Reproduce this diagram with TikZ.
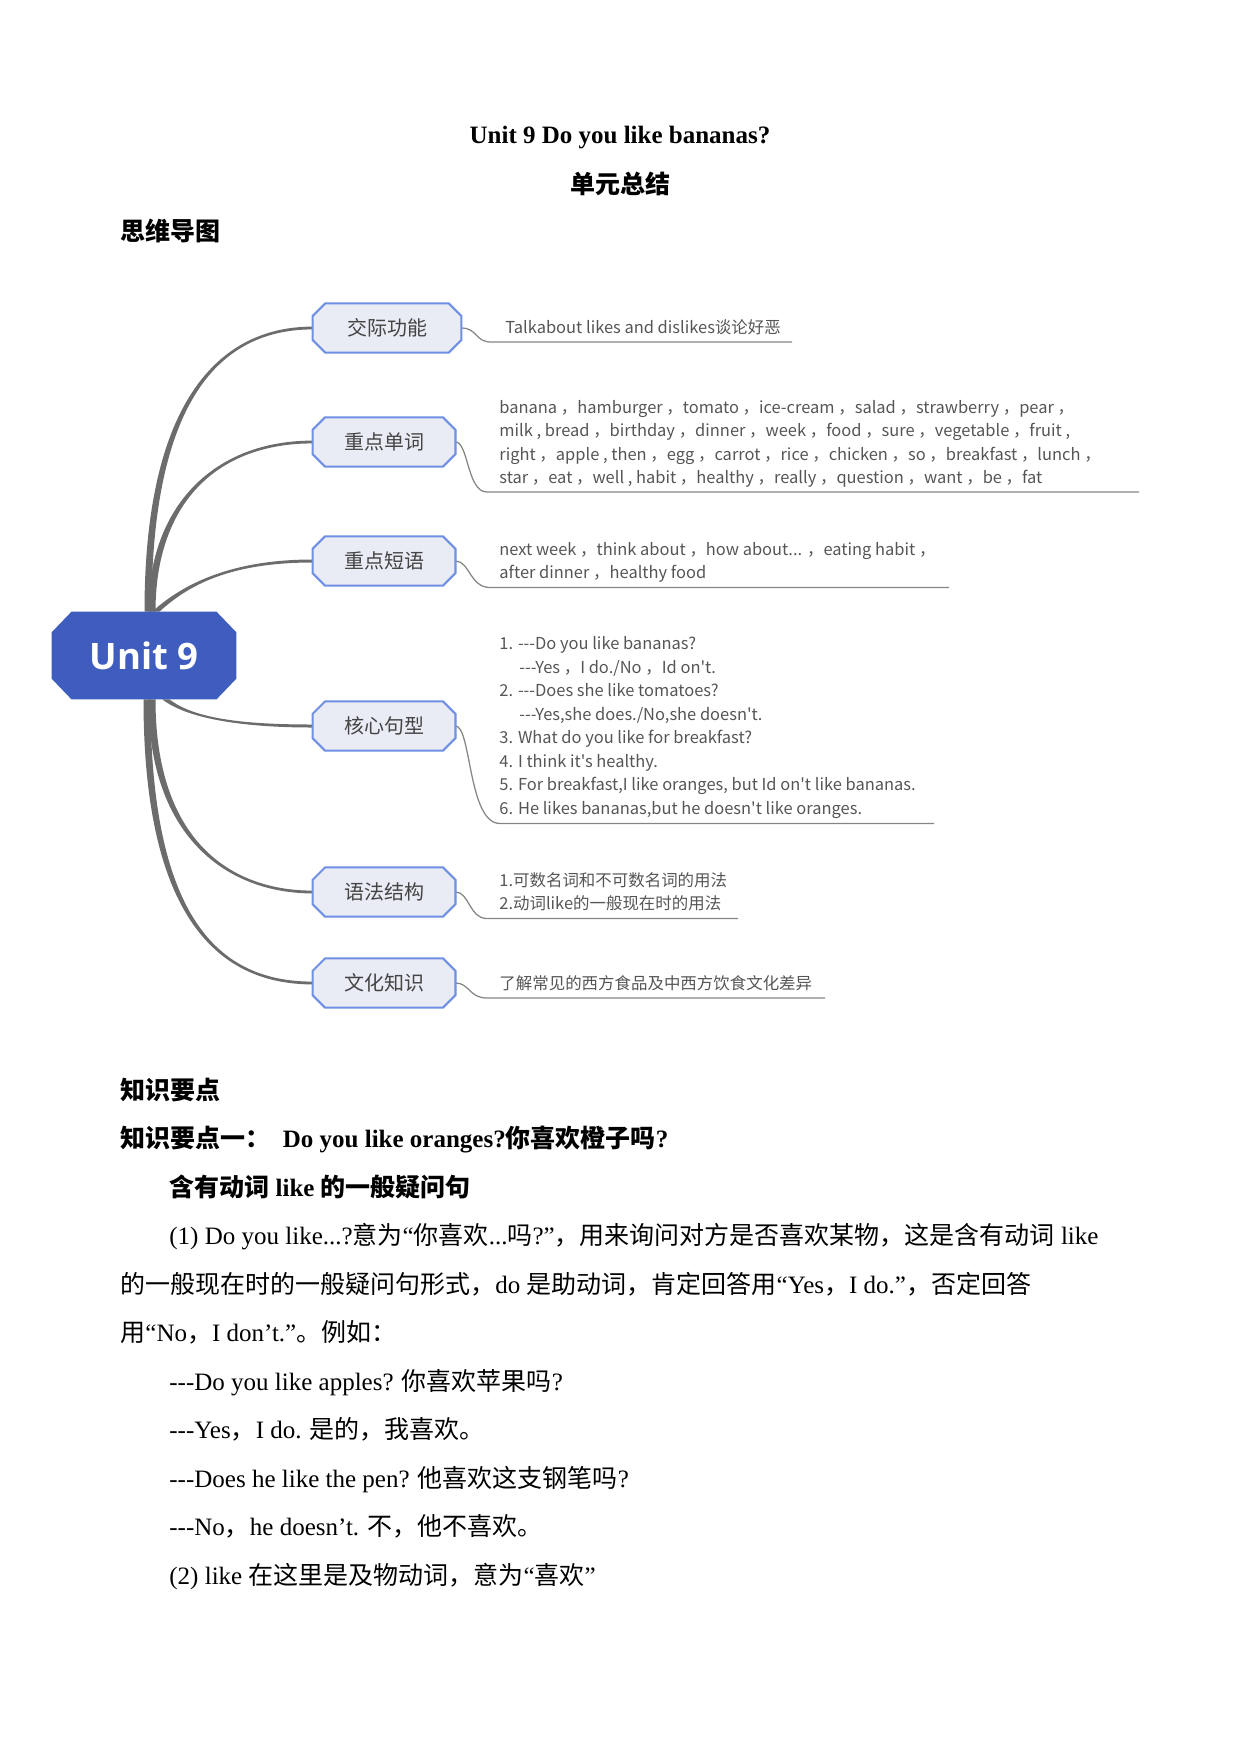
\documentclass[tikz,border=0pt]{standalone}
\usepackage{fontspec}
\setmainfont{Liberation Serif}[Ligatures=TeXOff]
\newfontfamily\cjk{Noto Sans CJK SC}
\newfontfamily\osans{Open Sans}
\usetikzlibrary{calc}
\pgfdeclarelayer{bg}
\pgfdeclarelayer{mid}
\pgfsetlayers{bg,mid,main}
\definecolor{trunk}{HTML}{6C6C6C}
\definecolor{unitblue}{HTML}{3F5CBF}
\definecolor{brfill}{HTML}{E9EBF5}
\definecolor{brline}{HTML}{6F8FE3}
\definecolor{leafgray}{HTML}{555555}
\definecolor{brtext}{HTML}{444444}
\definecolor{thingray}{HTML}{858585}
\newcommand\octbox[4]{\begin{pgfonlayer}{mid}\path[#4] ([xshift=#2]#1.north west) -- ([xshift=-#2]#1.north east) -- ([yshift=-#3]#1.north east) -- ([yshift=#3]#1.south east) -- ([xshift=-#2]#1.south east) -- ([xshift=#2]#1.south west) -- ([yshift=#3]#1.south west) -- ([yshift=-#3]#1.north west) -- cycle;\end{pgfonlayer}}
\newcommand\taper[6]{\begin{pgfonlayer}{bg}\fill[trunk] ($(#1)+({0-(#5)},0)$) .. controls ($(#2)+({0-(#5)},0)$) and ($(#3)+(0,{0-(#6)})$) .. ($(#4)+(0,{0-(#6)})$) -- ($(#4)+(0,{#6})$) .. controls ($(#3)+(0,{#6})$) and ($(#2)+({#5},0)$) .. ($(#1)+({#5},0)$) -- cycle;\end{pgfonlayer}}
\tikzset{
  unitnode/.style={minimum width=88.3pt, minimum height=41.8pt, inner sep=0pt, text=white, font=\osans\bfseries\fontsize{17.5}{20}\selectfont},
  br/.style={minimum width=68.2pt, minimum height=23.2pt, inner sep=0pt, text=brtext, font=\cjk\fontsize{9.6}{11}\selectfont},
  leaf/.style={anchor=base west, inner sep=0pt, text=leafgray, font=\cjk\fontsize{7.9}{9}\selectfont},
  body/.style={anchor=base west, inner sep=0pt, font=\fontsize{12}{14}\selectfont},
  thinline/.style={draw=thingray, line width=0.6pt},
  brshape/.style={fill=brfill, draw=brline, line width=1pt},
}
\begin{document}
\begin{tikzpicture}[x=0.48pt,y=-0.48pt]
\useasboundingbox (0,0) rectangle (1241,1754);
% headings
\node[body, anchor=base] (title) at (620,143) {\bfseries Unit 9 Do you like bananas?};
\node[body, anchor=base] (sub) at (620,193) {\cjk\bfseries 单元总结};
\node[body] (mm) at (120,240) {\cjk\bfseries 思维导图};
% central node
\node[unitnode] (u) at (144,655.5) {Unit 9};
\octbox{u}{9.6pt}{10pt}{fill=unitblue}
% branch nodes
\node[br, minimum width=71pt] (b1) at (387,328) {交际功能};
\node[br] (b2) at (384,442) {重点单词};
\node[br] (b3) at (384,561) {重点短语};
\node[br] (b4) at (384,726) {核心句型};
\node[br] (b5) at (384,892) {语法结构};
\node[br] (b6) at (384,983) {文化知识};
\foreach \b in {b1,b2,b3,b4,b5,b6}{\octbox{\b}{6pt}{6pt}{brshape}}
% root points
\coordinate (r1) at ($(u.north)+(4,0)$);
\coordinate (r2) at ($(u.north)+(8,0)$);
\coordinate (r3) at ($(u.north)+(12,0)$);
\coordinate (r4) at ($(u.south)+(22,0)$);
\coordinate (r5) at ($(u.south)+(8,0)$);
\coordinate (r6) at ($(u.south)+(3,0)$);
% trunk connectors
\taper{r1}{148,400}{220,328}{b1.west}{3.5}{1.4}
\taper{r2}{152,505}{215,442}{b2.west}{3.5}{1.4}
\taper{r3}{185,585}{230,561}{b3.west}{3.6}{1.5}
\taper{r4}{190,718}{240,726}{b4.west}{3.6}{-1.5}
\taper{r5}{152,840}{230,892}{b5.west}{3.5}{-1.4}
\taper{r6}{147,920}{220,983}{b6.west}{3.5}{-1.4}
% leaf underline end points
\coordinate (e1) at (491,342);   \coordinate (f1) at (792,342);
\coordinate (e2) at (487,492);   \coordinate (f2) at (1139,492);
\coordinate (e3) at (490,587.5); \coordinate (f3) at (949,587.5);
\coordinate (e4) at (500,823.5); \coordinate (f4) at (934,823.5);
\coordinate (e5) at (487,918.5); \coordinate (f5) at (738,918.5);
\coordinate (e6) at (487,998);   \coordinate (f6) at (825,998);
\begin{pgfonlayer}{bg}
\draw[thinline] (b1.east) .. controls +(16,0) and +(-16,0) .. (e1) -- (f1);
\draw[thinline] (b2.east) .. controls +(13,0) and +(-20,0) .. (e2) -- (f2);
\draw[thinline] (b3.east) .. controls +(14,0) and +(-20,0) .. (e3) -- (f3);
\draw[thinline] (b4.east) .. controls +(16,0) and +(-32,0) .. (e4) -- (f4);
\draw[thinline] (b5.east) .. controls +(14,0) and +(-18,0) .. (e5) -- (f5);
\draw[thinline] (b6.east) .. controls +(14,0) and +(-18,0) .. (e6) -- (f6);
\end{pgfonlayer}
% leaf texts
\node[leaf] (t1) at (505,333) {Talkabout likes and dislikes谈论好恶};
\node[leaf] (t21) at (499,413) {banana ，hamburger ，tomato ，ice-cream ，salad ，strawberry ，pear ，};
\node[leaf] (t22) at (499,436.5) {milk , bread ，birthday ，dinner ，week ，food ，sure ，vegetable ，fruit ,};
\node[leaf] (t23) at (499,460) {right ，apple , then ，egg ，carrot ，rice ，chicken ，so ，breakfast ，lunch ，};
\node[leaf] (t24) at (499,483.5) {star ，eat ，well , habit ，healthy ，really ，question ，want ，be ，fat};
\node[leaf] (t31) at (499,555) {next week ，think about ，how about... ，eating habit ，};
\node[leaf] (t32) at (499,578.5) {after dinner ，healthy food};
\node[leaf] (t41) at (499,649.5) {1. ---Do you like bananas?};
\node[leaf] (t42) at (519,673) {---Yes ，I do./No ，Id on't.};
\node[leaf] (t43) at (499,696.5) {2. ---Does she like tomatoes?};
\node[leaf] (t44) at (519,720) {---Yes,she does./No,she doesn't.};
\node[leaf] (t45) at (499,743.5) {3. What do you like for breakfast?};
\node[leaf] (t46) at (499,767) {4. I think it's healthy.};
\node[leaf] (t47) at (499,790.5) {5. For breakfast,I like oranges, but Id on't like bananas.};
\node[leaf] (t48) at (499,814) {6. He likes bananas,but he doesn't like oranges.};
\node[leaf] (t51) at (499,886) {1.可数名词和不可数名词的用法};
\node[leaf] (t52) at (499,909.5) {2.动词like的一般现在时的用法};
\node[leaf] (t61) at (499,989) {了解常见的西方食品及中西方饮食文化差异};
% body text
\node[body] (k0) at (120,1099) {\cjk\bfseries 知识要点};
\node[body] (k1) at (120,1147.5) {\bfseries{\cjk 知识要点一：}\hspace{6pt}Do you like oranges?{\cjk 你喜欢橙子吗}?};
\node[body] (k2) at (169,1196) {\bfseries{\cjk 含有动词} like {\cjk 的一般疑问句}};
\node[body] (p1) at (169,1244.5) {(1) Do you like...?{\cjk 意为}“{\cjk 你喜欢}...{\cjk 吗}?”{\cjk ，用来询问对方是否喜欢某物，这是含有动词} like};
\node[body] (p2) at (120,1293) {{\cjk 的一般现在时的一般疑问句形式，}do {\cjk 是助动词，肯定回答用}“Yes{\cjk ，}I do.”{\cjk ，否定回答}};
\node[body] (p3) at (120,1341.5) {{\cjk 用}“No{\cjk ，}I don’t.”{\cjk 。例如：}};
\node[body] (p4) at (169,1390) {---Do you like apples? {\cjk 你喜欢苹果吗}?};
\node[body] (p5) at (169,1438.5) {---Yes{\cjk ，}I do. {\cjk 是的，我喜欢。}};
\node[body] (p6) at (169,1487) {---Does he like the pen? {\cjk 他喜欢这支钢笔吗}?};
\node[body] (p7) at (169,1535.5) {---No{\cjk ，}he doesn’t. {\cjk 不，他不喜欢。}};
\node[body] (p8) at (169,1584) {(2) like {\cjk 在这里是及物动词，意为}“{\cjk 喜欢}”};
\end{tikzpicture}
\end{document}
